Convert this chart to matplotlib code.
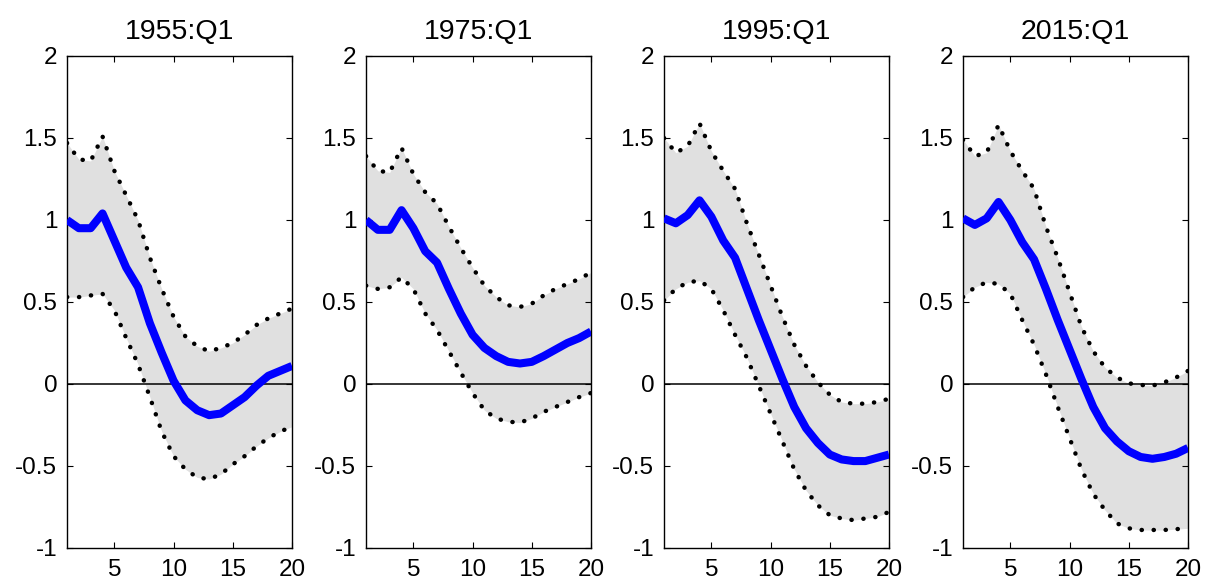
import matplotlib
matplotlib.use("Agg")
import matplotlib.pyplot as plt
import numpy as np

plt.rcParams['font.family'] = ['Liberation Sans', 'DejaVu Sans']
plt.rcParams['axes.unicode_minus'] = False

horizons = list(range(1, 21))
titles = ["1955:Q1", "1975:Q1", "1995:Q1", "2015:Q1"]

median_1955 = [1.00, 0.95, 0.95, 1.04, 0.875, 0.71, 0.59, 0.37, 0.19, 0.02,
               -0.10, -0.16, -0.19, -0.18, -0.13, -0.08, -0.01, 0.05, 0.08, 0.11]
upper_1955 = [1.47, 1.37, 1.36, 1.51, 1.30, 1.15, 1.00, 0.77, 0.58, 0.41,
              0.29, 0.23, 0.20, 0.22, 0.25, 0.30, 0.36, 0.40, 0.43, 0.46]
lower_1955 = [0.53, 0.53, 0.54, 0.55, 0.45, 0.28, 0.12, -0.08, -0.29, -0.44,
              -0.52, -0.57, -0.58, -0.55, -0.49, -0.44, -0.38, -0.33, -0.29, -0.26]

median_1975 = [1.00, 0.94, 0.94, 1.06, 0.95, 0.81, 0.74, 0.58, 0.43, 0.30,
               0.22, 0.17, 0.135, 0.125, 0.135, 0.17, 0.21, 0.25, 0.28, 0.32]
upper_1975 = [1.39, 1.30, 1.29, 1.44, 1.28, 1.17, 1.10, 0.96, 0.83, 0.71,
              0.60, 0.53, 0.48, 0.47, 0.49, 0.54, 0.58, 0.61, 0.64, 0.68]
lower_1975 = [0.60, 0.58, 0.59, 0.65, 0.58, 0.43, 0.33, 0.20, 0.07, -0.055,
              -0.16, -0.21, -0.23, -0.235, -0.21, -0.17, -0.14, -0.11, -0.08, -0.055]

median_1995 = [1.01, 0.98, 1.03, 1.12, 1.02, 0.875, 0.77, 0.58, 0.39, 0.21,
               0.03, -0.14, -0.27, -0.36, -0.43, -0.46, -0.47, -0.47, -0.45, -0.43]
upper_1995 = [1.50, 1.41, 1.45, 1.59, 1.42, 1.30, 1.19, 0.98, 0.79, 0.60,
              0.41, 0.24, 0.11, 0.01, -0.065, -0.11, -0.12, -0.12, -0.11, -0.09]
lower_1995 = [0.51, 0.58, 0.62, 0.63, 0.58, 0.45, 0.30, 0.16, -0.01, -0.18,
              -0.35, -0.52, -0.65, -0.74, -0.80, -0.82, -0.83, -0.82, -0.81, -0.78]

median_2015 = [1.01, 0.97, 1.01, 1.11, 1.00, 0.865, 0.76, 0.58, 0.39, 0.21,
               0.03, -0.14, -0.27, -0.35, -0.41, -0.445, -0.456, -0.445, -0.425, -0.39]
upper_2015 = [1.49, 1.39, 1.41, 1.58, 1.42, 1.30, 1.19, 0.96, 0.77, 0.56,
              0.35, 0.20, 0.10, 0.04, 0.004, -0.006, -0.01, 0.01, 0.04, 0.08]
lower_2015 = [0.53, 0.59, 0.62, 0.61, 0.55, 0.39, 0.24, 0.06, -0.14, -0.33,
              -0.52, -0.67, -0.77, -0.85, -0.88, -0.89, -0.89, -0.89, -0.885, -0.88]

medians = [median_1955, median_1975, median_1995, median_2015]
uppers = [upper_1955, upper_1975, upper_1995, upper_2015]
lowers = [lower_1955, lower_1975, lower_1995, lower_2015]

yticks = [-1, -0.5, 0, 0.5, 1, 1.5, 2]
xticks = [5, 10, 15, 20]

W, H = 1206, 583
fig = plt.figure(figsize=(W / 100, H / 100), dpi=100)
lefts = [67, 366, 664, 963]
ax_w, ax_top, ax_bot = 225, 56, 548

for i in range(4):
    ax = fig.add_axes([lefts[i] / W, 1 - ax_bot / H, ax_w / W, (ax_bot - ax_top) / H])
    x = np.array(horizons)
    ax.fill_between(x, lowers[i], uppers[i], color='#e0e0e0', linewidth=0, zorder=1)
    ax.axhline(0, color='black', linewidth=1.1, zorder=2)
    ax.plot(x, uppers[i], color='black', linewidth=3.2, linestyle=(0, (0.05, 2.65)),
            dash_capstyle='round', zorder=3)
    ax.plot(x, lowers[i], color='black', linewidth=3.2, linestyle=(0, (0.05, 2.65)),
            dash_capstyle='round', zorder=3)
    ax.plot(x, medians[i], color='#0000ff', linewidth=5.8, solid_joinstyle='round',
            solid_capstyle='butt', zorder=4)
    ax.set_xlim(1, 20)
    ax.set_ylim(-1, 2)
    ax.set_xticks(xticks)
    ax.set_yticks(yticks)
    ax.set_yticklabels(['%g' % v for v in yticks])
    ax.tick_params(direction='in', top=True, right=True, length=4, width=0.8,
                   labelsize=17.5, pad=7)
    ax.tick_params(axis='x', pad=8)
    for s in ax.spines.values():
        s.set_linewidth(1.0)
    ax.set_title(titles[i], fontsize=20.5, pad=12)

fig.savefig('out.png', dpi=100)
